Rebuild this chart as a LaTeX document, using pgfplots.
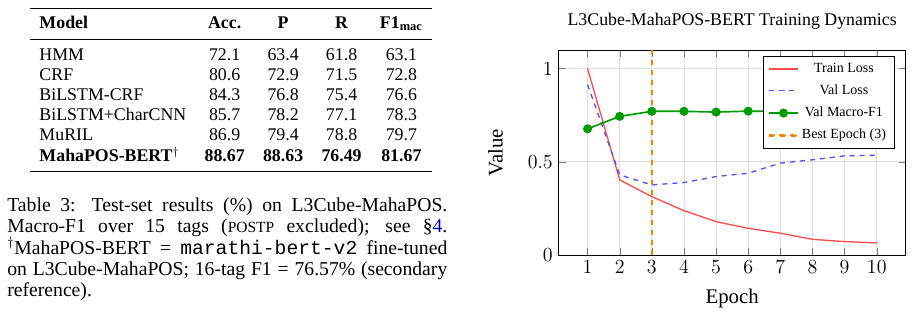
\documentclass[border=0pt]{standalone}
\usepackage{fontspec}
\setmainfont{Liberation Serif}
\setmonofont{Liberation Mono}
\usepackage{pgfplots}
\pgfplotsset{compat=1.18}
\usepackage{booktabs}
\usepackage{xcolor}

\definecolor{trainred}{RGB}{255,77,77}
\definecolor{valblue}{RGB}{80,80,255}
\definecolor{fgreen}{RGB}{0,155,0}
\definecolor{bestorange}{RGB}{255,128,0}
\definecolor{linkblue}{RGB}{0,0,190}

\begin{document}
\begin{tikzpicture}
\useasboundingbox (0,0) rectangle (547.8pt,-190.2pt);

% training curves
\begin{axis}[
  at={(335.2pt,-153pt)}, anchor=south west,
  scale only axis, width=208.2pt, height=123pt,
  xmin=0.1, xmax=10.9, ymin=0, ymax=1.1,
  xtick={1,...,10}, ytick={0,0.5,1},
  grid=major, grid style={gray!25, line width=0.5pt},
  tick label style={font=\fontsize{12}{14}\selectfont},
  title={L3Cube-MahaPOS-BERT Training Dynamics},
  title style={font=\fontsize{10.7}{12}\selectfont, anchor=base, yshift=9pt},
  xlabel={Epoch}, ylabel={Value},
  label style={font=\fontsize{12.5}{15}\selectfont},
  xlabel style={at={(axis description cs:0.5,0)}, anchor=base, yshift=-28.8pt},
  ylabel style={at={(axis description cs:-0.144,0.5)}, anchor=south},
  legend style={at={(0.968,0.971)}, anchor=north east,
    font=\fontsize{8.4}{10}\selectfont, draw=black, fill=white, row sep=2pt},
  legend cell align=center,
]
\addplot[trainred, line width=0.8pt] coordinates {
  (1,1.000) (2,0.403) (3,0.313) (4,0.238) (5,0.179)
  (6,0.143) (7,0.117) (8,0.084) (9,0.072) (10,0.065)};
\addlegendentry{Train Loss}
\addplot[valblue, line width=0.8pt, dashed] coordinates {
  (1,0.914) (2,0.430) (3,0.376) (4,0.389) (5,0.421)
  (6,0.439) (7,0.493) (8,0.511) (9,0.532) (10,0.536)};
\addlegendentry{Val Loss}
\addplot[fgreen, line width=1pt, mark=*, mark size=2.2pt] coordinates {
  (1,0.677) (2,0.744) (3,0.771) (4,0.771) (5,0.767)
  (6,0.772) (7,0.770) (8,0.771) (9,0.769) (10,0.770)};
\addlegendentry{Val Macro-F1}
% legend sample drawn as filled dashes
\addplot[bestorange, line width=0.9pt, dashed,
  legend image code/.code={%
    \fill[bestorange] (0pt,-0.45pt) rectangle (3.5pt,0.45pt)
                      (6.5pt,-0.45pt) rectangle (10pt,0.45pt)
                      (13pt,-0.45pt) rectangle (16.5pt,0.45pt);}]
  coordinates {(3,0) (3,1.1)};
\addlegendentry{Best Epoch (3)}
\end{axis}

% results table
\node[anchor=north west, inner sep=0pt] at (18pt,-4.4pt) {%
  \fontsize{10.7}{12.1}\selectfont
  \setlength{\tabcolsep}{5.5pt}%
  \begin{tabular}{lcccc}
  \toprule\addlinespace[3pt]
  \textbf{Model} & \textbf{Acc.} & \textbf{P} & \textbf{R} & \textbf{F1\textsubscript{mac}}\\[1.3pt]
  \midrule\addlinespace[3.5pt]
  HMM & 72.1 & 63.4 & 61.8 & 63.1\\
  CRF & 80.6 & 72.9 & 71.5 & 72.8\\
  BiLSTM-CRF & 84.3 & 76.8 & 75.4 & 76.6\\
  BiLSTM+CharCNN & 85.7 & 78.2 & 77.1 & 78.3\\
  MuRIL & 86.9 & 79.4 & 78.8 & 79.7\\
  \textbf{MahaPOS-BERT}$^{\dagger}$ & \textbf{88.67} & \textbf{88.63} & \textbf{76.49} & \textbf{81.67}\\
  \addlinespace[2pt]\bottomrule
  \end{tabular}};

% caption
\node[anchor=base west, inner sep=0pt, text width=264pt, align=justify,
      font=\fontsize{11.8}{12.75}\selectfont] at (4.2pt,-127pt) {%
  \emergencystretch=2em\hyphenpenalty=10000\exhyphenpenalty=10000
  Table 3: Test-set results (\%) on L3Cube-MahaPOS.\linebreak
  Macro-F1 over 15 tags ({\fontsize{9.3}{10}\selectfont POSTP} excluded); see §\textcolor{linkblue}{4}.\linebreak
  $^{\dagger}$MahaPOS-BERT = \texttt{marathi-bert-v2} fine-tuned\linebreak
  on L3Cube-MahaPOS; 16-tag F1 = 76.57\% (secondary\linebreak
  reference).};
\end{tikzpicture}
\end{document}
